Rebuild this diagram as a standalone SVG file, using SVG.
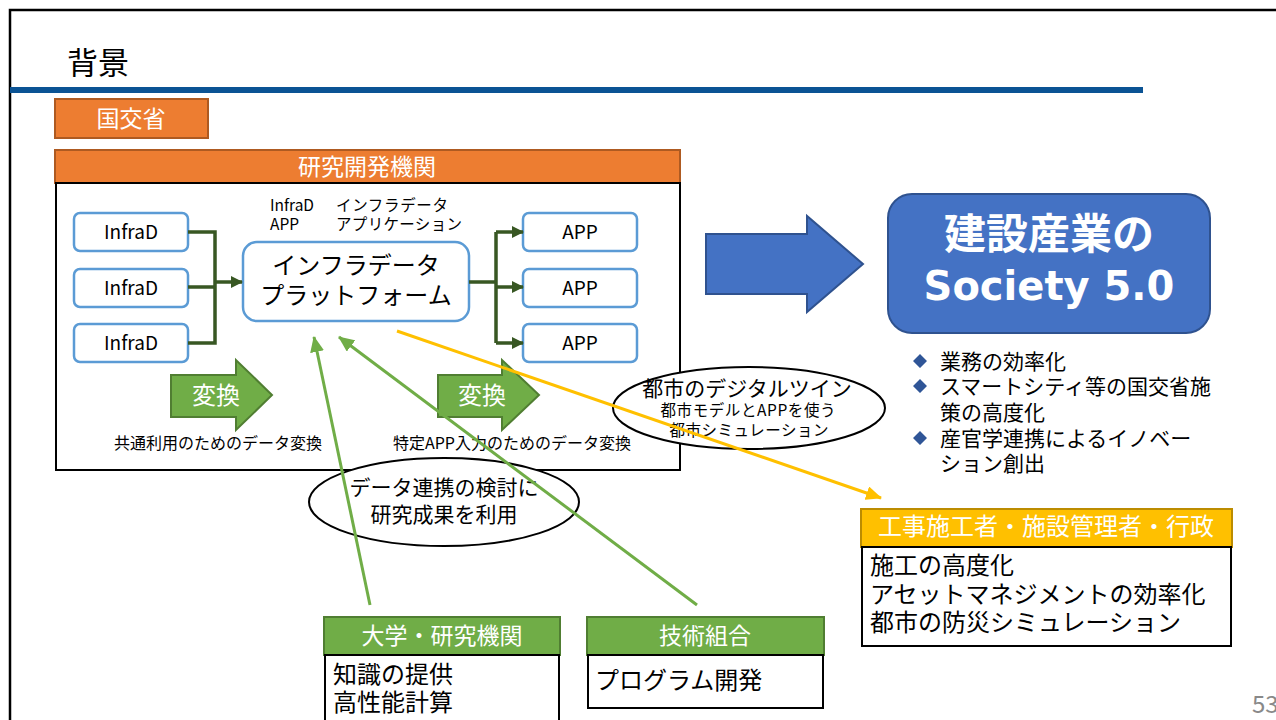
<svg xmlns="http://www.w3.org/2000/svg" width="1276" height="720" viewBox="0 0 1276 720">
<style>
text{font-family:"Noto Sans CJK JP","Noto Sans",sans-serif;}
.w{fill:#fff}
.k{fill:#000}
.or{fill:#ED7D31;stroke:#AE5A21;stroke-width:2}
.gr{fill:#70AD47;stroke:#507E32;stroke-width:2}
.yl{fill:#FFC000;stroke:#BC8C00;stroke-width:2}
.bl{fill:#4472C4;stroke:#2F528F;stroke-width:2}
.bx{fill:#fff;stroke:#000;stroke-width:2}
.rb{fill:#fff;stroke:#5B9BD5;stroke-width:2.5}
.dg{fill:none;stroke:#385723;stroke-width:3.5}
.lg{fill:none;stroke:#70AD47;stroke-width:3}
.ly{fill:none;stroke:#FFC000;stroke-width:3}
.c{text-anchor:middle}
.lat{font-family:"DejaVu Sans","Noto Sans CJK JP",sans-serif}
</style>
<defs>
<marker id="ad" markerUnits="userSpaceOnUse" markerWidth="12" markerHeight="12" refX="11" refY="6" orient="auto"><path d="M0,0L12,6L0,12z" fill="#385723"/></marker>
<marker id="ag" markerUnits="userSpaceOnUse" markerWidth="16" markerHeight="14" refX="15" refY="7" orient="auto"><path d="M0,0L16,7L0,14z" fill="#70AD47"/></marker>
<marker id="ay" markerUnits="userSpaceOnUse" markerWidth="16" markerHeight="14" refX="15" refY="7" orient="auto"><path d="M0,0L16,7L0,14z" fill="#FFC000"/></marker>
</defs>
<rect width="1276" height="720" fill="#fff"/>
<path d="M10,720V10H1276" fill="none" stroke="#000" stroke-width="2.5"/>
<rect x="10" y="87" width="1133" height="6" fill="#0B5394"/>
<text x="67" y="74" font-size="31" class="k">背景</text>

<g id="mlit"><rect x="55" y="99" width="153" height="39" class="or"/><text x="131" y="127" font-size="23" class="w c">国交省</text></g>

<g id="research">
<rect x="55" y="150" width="625" height="33" class="or"/><text x="367" y="175" font-size="23" class="w c">研究開発機関</text>
<rect x="56" y="183" width="624" height="287" class="bx"/>
</g>

<g id="legend" font-size="15.5"><text x="270" y="211" class="k">InfraD</text><text x="336" y="211" class="k" textLength="112" lengthAdjust="spacing">インフラデータ</text><text x="270" y="230" class="k">APP</text><text x="336" y="230" class="k" textLength="126" lengthAdjust="spacing">アプリケーション</text></g>

<g id="infra1"><rect x="74" y="213" width="114" height="38" rx="6" class="rb"/><text x="131" y="239" font-size="19" class="k c">InfraD</text></g>
<g id="infra2"><rect x="74" y="269" width="114" height="38" rx="6" class="rb"/><text x="131" y="295" font-size="19" class="k c">InfraD</text></g>
<g id="infra3"><rect x="74" y="324" width="114" height="38" rx="6" class="rb"/><text x="131" y="350" font-size="19" class="k c">InfraD</text></g>

<g id="platform"><rect x="243" y="242" width="226" height="79" rx="14" class="rb"/><text x="356" y="274" font-size="24" class="k c">インフラデータ</text><text x="356" y="304" font-size="24" class="k c">プラットフォーム</text></g>

<g id="app1"><rect x="523" y="213" width="114" height="38" rx="6" class="rb"/><text x="580" y="239" font-size="19" class="k c">APP</text></g>
<g id="app2"><rect x="523" y="269" width="114" height="38" rx="6" class="rb"/><text x="580" y="295" font-size="19" class="k c">APP</text></g>
<g id="app3"><rect x="523" y="324" width="114" height="38" rx="6" class="rb"/><text x="580" y="350" font-size="19" class="k c">APP</text></g>

<g id="conv1"><path d="M171,375H236V360L272,395L236,430V417H171z" class="gr"/><text x="216" y="404" font-size="24" class="w c">変換</text><text x="218" y="449" font-size="16" class="k c">共通利用のためのデータ変換</text></g>
<g id="conv2"><path d="M438,375H502V360L539,395L502,430V417H438z" class="gr"/><text x="482" y="404" font-size="24" class="w c">変換</text><text x="512" y="449" font-size="16" class="k c" textLength="238" lengthAdjust="spacing">特定APP入力のためのデータ変換</text></g>

<g id="bigarrow"><path d="M706,234H807V216L863,264L807,312V294H706z" class="bl"/></g>
<g id="society"><rect x="888" y="194" width="322" height="139" rx="24" class="bl"/><text x="1049" y="249" font-size="42" font-weight="bold" class="w c">建設産業の</text><text x="1049" y="300" font-size="40" font-weight="bold" class="w c lat">Society 5.0</text></g>

<g id="bullets" font-size="21">
<path d="M913,361l7,-7l7,7l-7,7z M913,386l7,-7l7,7l-7,7z M913,438l7,-7l7,7l-7,7z" fill="#2F5597"/>
<text x="940" y="369" class="k">業務の効率化</text>
<text x="940" y="394" class="k">スマートシティ等の国交省施</text>
<text x="940" y="420" class="k">策の高度化</text>
<text x="940" y="446" class="k">産官学連携によるイノベー</text>
<text x="940" y="471" class="k">ション創出</text>
</g>

<g id="twin"><ellipse cx="749" cy="408" rx="136" ry="41" class="bx"/><text x="747" y="396" font-size="21" class="k c">都市のデジタルツイン</text><text x="748" y="416" font-size="15.5" class="k c" textLength="175" lengthAdjust="spacing">都市モデルとAPPを使う</text><text x="749" y="436" font-size="15.5" class="k c" textLength="159" lengthAdjust="spacing">都市シミュレーション</text></g>

<g id="collab"><ellipse cx="444" cy="502" rx="135" ry="44" class="bx"/><text x="444" y="495" font-size="21" class="k c">データ連携の検討に</text><text x="444" y="522" font-size="21" class="k c">研究成果を利用</text></g>

<g id="univ"><rect x="324" y="617" width="236" height="38" class="gr"/><text x="442" y="644" font-size="23" class="w c">大学・研究機関</text><rect x="325" y="655" width="234" height="70" class="bx"/><text x="333" y="683" font-size="24" class="k">知識の提供</text><text x="333" y="711" font-size="24" class="k">高性能計算</text></g>

<g id="union"><rect x="587" y="617" width="237" height="38" class="gr"/><text x="705" y="644" font-size="23" class="w c">技術組合</text><rect x="588" y="655" width="235" height="53" class="bx"/><text x="595" y="689" font-size="24" class="k">プログラム開発</text></g>

<g id="builders"><rect x="861" y="509" width="371" height="38" class="yl"/><text x="1046" y="535" font-size="24" class="w c">工事施工者・施設管理者・行政</text><rect x="862" y="547" width="369" height="99" class="bx"/><text x="870" y="574" font-size="24" class="k">施工の高度化</text><text x="870" y="603" font-size="24" class="k">アセットマネジメントの効率化</text><text x="870" y="631" font-size="24" class="k">都市の防災シミュレーション</text></g>

<g id="connectors">
<path d="M188,232H215V343H188 M188,287H215" class="dg"/>
<path d="M215,282H242" class="dg" marker-end="url(#ad)"/>
<path d="M469,282H496V343 M496,282V232" class="dg"/>
<path d="M496,232H523" class="dg" marker-end="url(#ad)"/>
<path d="M496,287H523" class="dg" marker-end="url(#ad)"/>
<path d="M496,343H523" class="dg" marker-end="url(#ad)"/>
<path d="M370,605L314,337" class="lg" marker-end="url(#ag)"/>
<path d="M697,605L339,337" class="lg" marker-end="url(#ag)"/>
<path d="M397,331L881,498" class="ly" marker-end="url(#ay)"/>
</g>

<text x="1252" y="713" font-size="24" fill="#898989">53</text>
</svg>
